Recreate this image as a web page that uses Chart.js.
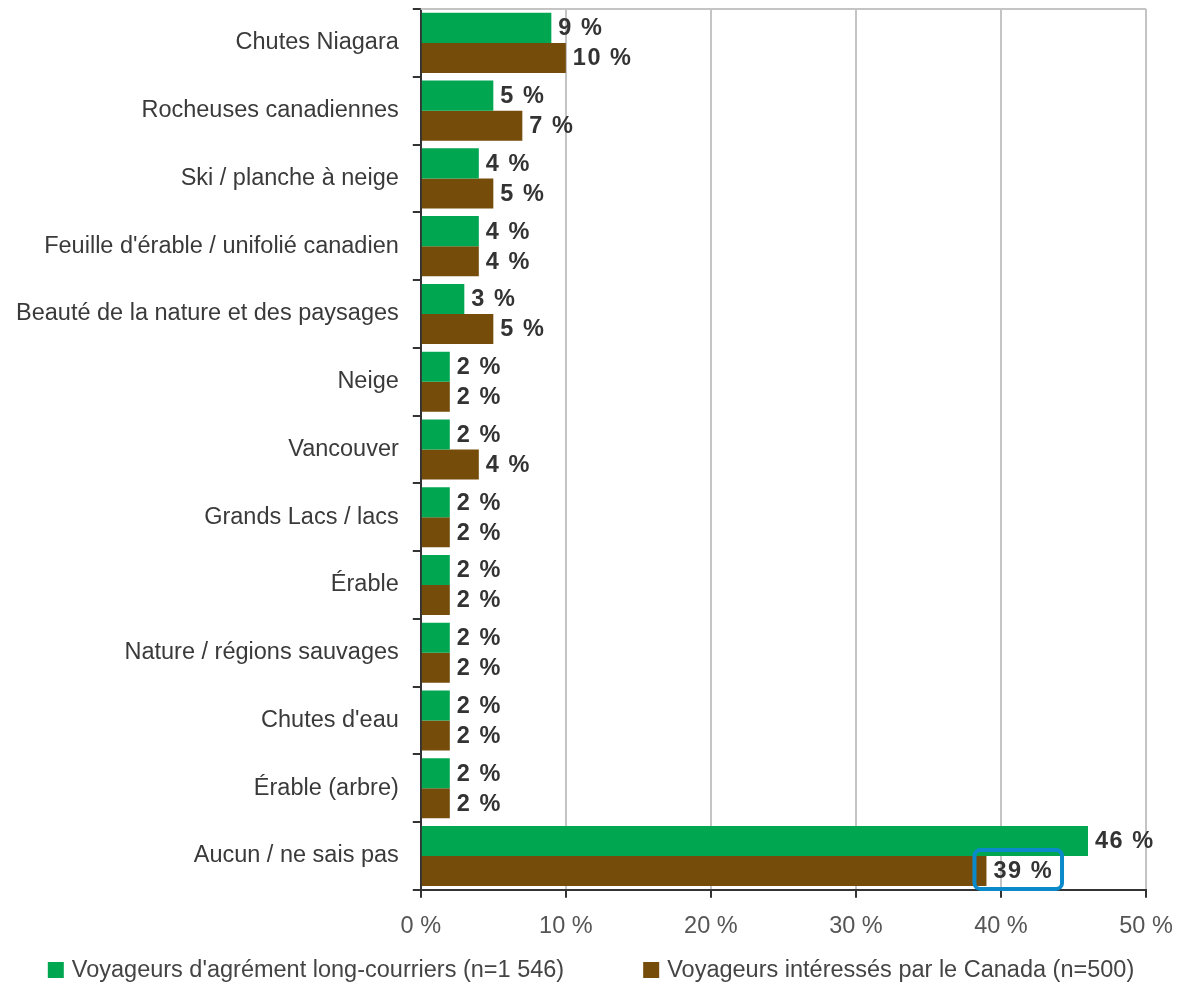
<!DOCTYPE html>
<html>
<head>
<meta charset="utf-8">
<script src="https://cdn.jsdelivr.net/npm/chart.js@4/dist/chart.umd.min.js"></script>
<style>
  html, body { margin: 0; padding: 0; background: #fff; }
  #wrap { width: 1182px; height: 985px; }
</style>
</head>
<body>
<div id="wrap"><canvas id="myChart"></canvas></div>
<script>
const labels = [
  "Chutes Niagara",
  "Rocheuses canadiennes",
  "Ski / planche à neige",
  "Feuille d'érable / unifolié canadien",
  "Beauté de la nature et des paysages",
  "Neige",
  "Vancouver",
  "Grands Lacs / lacs",
  "Érable",
  "Nature / régions sauvages",
  "Chutes d'eau",
  "Érable (arbre)",
  "Aucun / ne sais pas",
];
const longHaul = [9, 5, 4, 4, 3, 2, 2, 2, 2, 2, 2, 2, 46];
const canadaInterested = [10, 7, 5, 4, 5, 2, 4, 2, 2, 2, 2, 2, 39];
const xTicks = [0, 10, 20, 30, 40, 50];
const highlight = { dataset: 1, index: 12 };

const FONT = "'Liberation Sans', Arial, sans-serif";
const SIZE = 23.5;

// value labels at the end of each bar, plus the rounded box on the highlighted one
const valueLabels = {
  id: "valueLabels",
  afterDatasetsDraw(chart) {
    const { ctx } = chart;
    ctx.save();
    ctx.font = "bold " + SIZE + "px " + FONT;
    ctx.letterSpacing = "1.5px";
    ctx.fillStyle = "#333";
    ctx.textBaseline = "middle";
    chart.data.datasets.forEach((ds, di) => {
      chart.getDatasetMeta(di).data.forEach((bar, i) => {
        const text = ds.data[i] + " %";
        ctx.fillText(text, bar.x + 7, bar.y + 1);
        if (di === highlight.dataset && i === highlight.index) {
          const w = ctx.measureText(text).width;
          const h = bar.height;
          ctx.strokeStyle = "#0a8acb";
          ctx.lineWidth = 4;
          ctx.beginPath();
          ctx.roundRect(bar.x - 12, bar.y - h / 2 - 6, w + 28, h + 9, 6);
          ctx.stroke();
        }
      });
    });
    ctx.restore();
  },
};

// thin border along the top of the plot area
const topBorder = {
  id: "topBorder",
  beforeDatasetsDraw(chart) {
    const { ctx, chartArea } = chart;
    ctx.save();
    ctx.strokeStyle = "#c4c4c4";
    ctx.lineWidth = 2;
    ctx.beginPath();
    ctx.moveTo(chartArea.left, chartArea.top);
    ctx.lineTo(chartArea.right, chartArea.top);
    ctx.stroke();
    ctx.restore();
  },
};

// legend row under the axis, items spread apart
const bottomLegend = {
  id: "bottomLegend",
  afterDraw(chart) {
    const { ctx, width, height } = chart;
    const box = 16, gap = 8, spacing = 79;
    ctx.save();
    ctx.font = SIZE + "px " + FONT;
    ctx.textBaseline = "middle";
    const items = chart.data.datasets.map((ds) => ({
      text: ds.label,
      color: ds.backgroundColor,
      w: box + gap + ctx.measureText(ds.label).width,
    }));
    const total = items.reduce((s, it) => s + it.w, 0) + spacing * (items.length - 1);
    let x = (width - total) / 2;
    const y = height - 15;
    items.forEach((it) => {
      ctx.fillStyle = it.color;
      ctx.fillRect(x, y - box / 2, box, box);
      ctx.fillStyle = "#444";
      ctx.fillText(it.text, x + box + gap, y + 1);
      x += it.w + spacing;
    });
    ctx.restore();
  },
};

const ctx = document.getElementById("myChart").getContext("2d");
const myChart = new Chart(ctx, {
  type: "bar",
  data: {
    labels: labels,
    datasets: [
      {
        label: "Voyageurs d'agrément long-courriers (n=1 546)",
        data: longHaul,
        backgroundColor: "#00a650",
        barPercentage: 1,
        categoryPercentage: 0.886,
      },
      {
        label: "Voyageurs intéressés par le Canada (n=500)",
        data: canadaInterested,
        backgroundColor: "#754c0a",
        barPercentage: 1,
        categoryPercentage: 0.886,
      },
    ],
  },
  options: {
    indexAxis: "y",
    responsive: true,
    maintainAspectRatio: false,
    animation: false,
    layout: { padding: { top: 9, right: 36, left: 2, bottom: 29 } },
    scales: {
      x: {
        min: 0,
        max: 50,
        afterBuildTicks: (axis) => (axis.ticks = xTicks.map((v) => ({ value: v }))),
        afterFit: (axis) => {
          axis.paddingLeft = 0;
          axis.paddingRight = 0;
        },
        grid: { color: "#c4c4c4", lineWidth: 2, tickColor: "#333", tickLength: 8 },
        border: { color: "#333", width: 2 },
        ticks: {
          color: "#555",
          font: { family: FONT, size: SIZE },
          padding: 15,
          callback: (v) => v + " %",
        },
      },
      y: {
        afterFit: (axis) => {
          axis.paddingTop = 0;
          axis.paddingBottom = 0;
        },
        grid: { drawOnChartArea: false, color: "#333", tickLength: 8, lineWidth: 2 },
        border: { color: "#333", width: 2 },
        ticks: {
          color: "#3a3a3a",
          font: { family: FONT, size: SIZE },
          padding: 14,
        },
      },
    },
    plugins: {
      legend: { display: false },
      tooltip: { enabled: false },
    },
  },
  plugins: [valueLabels, topBorder, bottomLegend],
});
</script>
</body>
</html>
